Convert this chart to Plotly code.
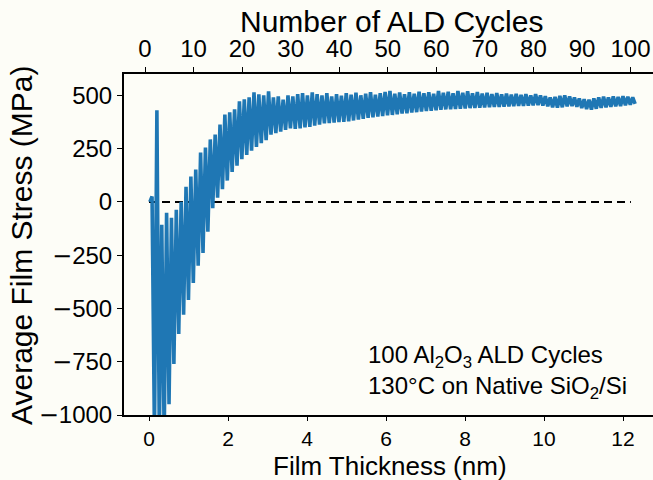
import plotly.graph_objects as go

# ---- data ----
cycles = list(range(1, 101))
peak_stress = [25, 430, -108, -51, -75, -37, 0, 71, 119, 152,
               231, 255, 293, 316, 363, 410, 420, 434, 472, 481,
               490, 514, 505, 500, 519, 490, 495, 480, 500, 495,
               505, 510, 500, 514, 505, 500, 510, 495, 505, 498,
               510, 503, 512, 500, 508, 515, 503, 510, 516, 520,
               507, 513, 505, 515, 508, 517, 510, 514, 507, 520,
               512, 517, 509, 520, 512, 519, 510, 515, 508, 512,
               506, 510, 505, 508, 503, 507, 502, 506, 500, 505,
               500, 496, 490, 492, 497, 500, 495, 490, 485, 482,
               480, 486, 490, 494, 490, 495, 492, 496, 493, 490]
trough_stress = [-1100, -1100, -1100, -950, -760, -620, -530, -460, -380, -300,
                 -240, -140, -30, 20, 60, 100, 140, 170, 200, 220,
                 240, 258, 275, 290, 315, 322, 330, 338, 345, 342,
                 345, 350, 352, 358, 362, 368, 370, 372, 374, 376,
                 378, 382, 386, 390, 394, 397, 400, 403, 406, 408,
                 411, 414, 416, 419, 421, 424, 426, 428, 430, 432,
                 434, 435, 436, 437, 438, 440, 441, 442, 443, 444,
                 445, 446, 447, 448, 449, 450, 451, 452, 453, 454,
                 452, 448, 444, 442, 444, 448, 450, 446, 440, 435,
                 433, 437, 441, 444, 446, 448, 450, 453, 456, 460]
zero_line_thickness = [0.0, 12.2]
zero_line_stress = [0, 0]

thickness_ticks = [0, 2, 4, 6, 8, 10, 12]
cycle_ticks = [0, 10, 20, 30, 40, 50, 60, 70, 80, 90, 100]
stress_ticks = [-1000, -750, -500, -250, 0, 250, 500]

# build the sawtooth (peak then trough within each cycle)
xs = [1.0]
ys = [0]
for c, p, t in zip(cycles, peak_stress, trough_stress):
    xs += [c + 0.45, c + 0.95]
    ys += [p, t]

MINUS = "<span style='font-family:DejaVu Sans'>\u2212</span>"
stress_ticktext = [(MINUS + str(-v)) if v < 0 else str(v) for v in stress_ticks]

W, H = 653, 480
L, R, T, B = 124, 653, 74, 415
BG = "#fdfdf7"
FONT = "Liberation Sans, Arial, sans-serif"

def px(x):
    return (x - L) / (R - L)

def py(y):
    return (B - y) / (B - T)

fig = go.Figure()
fig.add_trace(go.Scatter(x=xs, y=ys, xaxis="x2", yaxis="y", mode="lines",
                         line=dict(color="#1f77b4", width=3.6), showlegend=False,
                         hoverinfo="skip"))
fig.add_trace(go.Scatter(x=zero_line_thickness, y=zero_line_stress, xaxis="x", yaxis="y",
                         mode="lines", line=dict(color="black", width=2, dash="8px,5px"),
                         showlegend=False, hoverinfo="skip"))

axis_common = dict(showline=True, linecolor="black", linewidth=2, ticks="outside",
                   tickwidth=1.2, tickcolor="black", showgrid=False, zeroline=False)

fig.update_layout(
    width=W, height=H,
    margin=dict(l=L, r=W - R, t=T, b=H - B, pad=0),
    paper_bgcolor=BG, plot_bgcolor=BG,
    xaxis=dict(range=[-0.633, 12.759], tickvals=thickness_ticks, side="bottom",
               anchor="y", ticklen=4, tickfont=dict(family=FONT, size=21, color="black"),
               **axis_common),
    xaxis2=dict(range=[-4.325, 104.63], tickvals=cycle_ticks, side="top",
                overlaying="x", anchor="y", ticklen=5,
                tickfont=dict(family=FONT, size=24, color="black"), **axis_common),
    yaxis=dict(range=[-1000, 600], tickvals=stress_ticks, ticktext=stress_ticktext,
               anchor="x", ticklen=5, tickfont=dict(family=FONT, size=24, color="black"),
               **axis_common),
    annotations=[
        dict(text="Film Thickness (nm)", xref="paper", yref="paper",
             x=px(390), y=py(465.5), xanchor="center", yanchor="middle", showarrow=False,
             font=dict(family=FONT, size=26, color="black")),
        dict(text="Number of ALD Cycles", xref="paper", yref="paper",
             x=px(391), y=py(22), xanchor="center", yanchor="middle", showarrow=False,
             font=dict(family=FONT, size=30, color="black")),
        dict(text="Average Film Stress (MPa)", xref="paper", yref="paper",
             x=px(21), y=py(245), xanchor="center", yanchor="middle", showarrow=False,
             textangle=-90, font=dict(family=FONT, size=30, color="black")),
        dict(text="100 Al<sub>2</sub>O<sub>3</sub> ALD Cycles<br>130°C on Native SiO<sub>2</sub>/Si",
             xref="paper", yref="paper", x=px(366), y=py(372), xanchor="left",
             yanchor="middle", align="left", showarrow=False,
             font=dict(family=FONT, size=24, color="black")),
    ],
)

fig.write_html("out.html")
